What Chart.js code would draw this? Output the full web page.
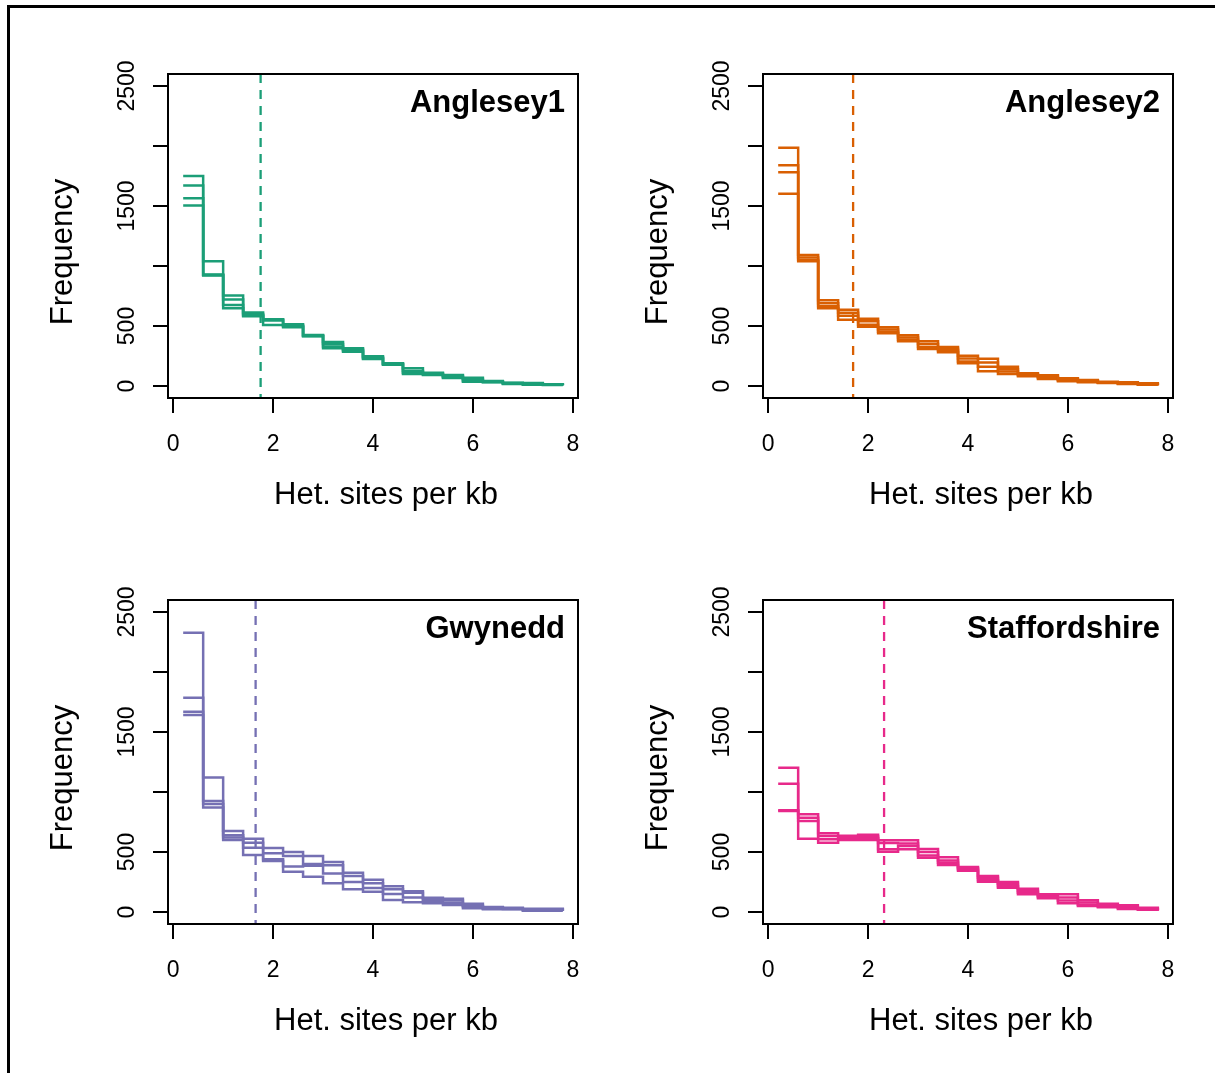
<!DOCTYPE html>
<html>
<head>
<meta charset="utf-8">
<script src="https://cdn.jsdelivr.net/npm/chart.js@4.4.1/dist/chart.umd.min.js"></script>
<style>
html,body{margin:0;padding:0;background:#fff;}
body{width:1215px;height:1073px;position:relative;overflow:hidden;}
#frame{position:absolute;left:7px;top:5px;width:1230px;height:1090px;border-top:3px solid #000;border-left:3px solid #000;}
canvas{position:absolute;}
</style>
</head>
<body>
<div id="frame"></div>
<canvas id="c0" width="570" height="476" style="left:28px;top:54px"></canvas>
<canvas id="c1" width="570" height="476" style="left:623px;top:54px"></canvas>
<canvas id="c2" width="570" height="476" style="left:28px;top:580px"></canvas>
<canvas id="c3" width="570" height="476" style="left:623px;top:580px"></canvas>
<script>
// ---- data ----
const hetBins = [0.2,0.6,1.0,1.4,1.8,2.2,2.6,3.0,3.4,3.8,4.2,4.6,5.0,5.4,5.8,6.2,6.6,7.0,7.4,7.8];
const xTicks = [0,2,4,6,8];
const xTickLabels = ['0','2','4','6','8'];
const yTicks = [0,500,1000,1500,2000,2500];
const yTickLabels = ['0','500','','1500','','2500'];

const populations = ['Anglesey1','Anglesey2','Gwynedd','Staffordshire'];
const popColors = ['#1B9E77','#D95F02','#7570B3','#E7298A'];
const meanHet = [1.75, 1.70, 1.65, 2.32];

const anglesey1 = [
  [1750,1040,755,612,556,514,425,367,314,247,189,147,111,92,69,42,28,25,14,10],
  [1670,930,720,600,552,505,421,350,305,240,185,125,105,83,58,38,24,20,12,8],
  [1565,925,675,590,545,497,417,330,295,232,181,110,98,75,45,34,20,15,10,6],
  [1505,920,648,581,508,489,414,314,286,225,178,100,92,67,36,31,17,11,8,5]
];
const anglesey2 = [
  [1986,1092,714,636,561,489,422,372,325,253,228,161,106,89,64,50,36,31,22,12],
  [1839,1070,690,610,540,470,405,350,310,230,195,140,98,78,55,44,32,26,18,8],
  [1781,1050,665,585,510,452,385,325,295,205,160,120,90,68,47,37,28,21,14,6],
  [1603,1039,647,553,494,439,372,308,281,189,122,100,81,58,39,31,25,17,11,5]
];
const gwynedd = [
  [2328,1120,675,611,533,500,467,417,328,269,214,172,119,111,69,42,36,28,28,20],
  [1786,925,640,578,490,467,400,390,300,240,190,160,105,95,55,35,30,22,22,15],
  [1669,900,620,536,440,380,385,320,250,200,150,120,90,75,45,28,26,16,16,10],
  [1642,870,600,475,425,336,294,239,189,169,100,81,72,58,31,22,22,11,11,8]
];
const staffordshire = [
  [1203,814,656,636,644,597,597,525,456,375,300,250,194,147,147,97,69,56,36,20],
  [1069,786,633,625,630,575,570,500,430,365,285,235,175,135,120,80,55,45,30,15],
  [847,758,606,612,615,522,550,470,410,355,265,215,160,125,95,60,45,35,25,12],
  [842,611,578,600,600,503,522,453,392,344,253,203,147,114,72,50,39,25,19,10]
];
const popSeries = [anglesey1, anglesey2, gwynedd, staffordshire];

const xTitle = 'Het. sites per kb';
const yTitle = 'Frequency';

// ---- chart ----
const FAMILY = "'Liberation Sans', Arial, Helvetica, sans-serif";
Chart.defaults.font.family = FAMILY;
Chart.defaults.color = '#000';

const panelDecor = {
  id: 'panelDecor',
  afterDatasetsDraw(chart, args, opts) {
    const {ctx, chartArea: a} = chart;
    const x = chart.scales.x;
    ctx.save();
    // mean line (dashed)
    const px = x.getPixelForValue(opts.mean);
    ctx.strokeStyle = opts.color;
    ctx.lineWidth = 2.3;
    ctx.setLineDash([9, 7]);
    ctx.beginPath();
    ctx.moveTo(px, a.top);
    ctx.lineTo(px, a.bottom);
    ctx.stroke();
    ctx.setLineDash([]);
    // plot box
    ctx.strokeStyle = '#000';
    ctx.lineWidth = 2;
    ctx.strokeRect(a.left, a.top, a.right - a.left, a.bottom - a.top);
    // panel label
    ctx.font = 'bold 31px ' + FAMILY;
    ctx.fillStyle = '#000';
    ctx.textAlign = 'right';
    ctx.textBaseline = 'alphabetic';
    ctx.fillText(opts.label, a.right - 13, a.top + 38);
    // axis titles
    ctx.font = '31px ' + FAMILY;
    ctx.textAlign = 'center';
    ctx.textBaseline = 'middle';
    ctx.fillText(opts.xTitle, (a.left + a.right) / 2 + 13, a.bottom + 97);
    ctx.translate(a.left - 105, (a.top + a.bottom) / 2 + 16);
    ctx.rotate(-Math.PI / 2);
    ctx.fillText(opts.yTitle, 0, 0);
    ctx.restore();
  }
};

function makePanel(idx) {
  const color = popColors[idx];
  const datasets = popSeries[idx].map(vals => ({
    data: hetBins.map((b, i) => ({x: b, y: vals[i]})),
    borderColor: color,
    borderWidth: 2.5,
    stepped: true,
    pointRadius: 0,
    fill: false
  }));
  new Chart(document.getElementById('c' + idx), {
    type: 'line',
    data: {datasets},
    options: {
      responsive: false,
      animation: false,
      events: [],
      layout: {padding: {top: 20, right: 20, left: 0, bottom: 0}},
      plugins: {
        legend: {display: false},
        tooltip: {enabled: false},
        panelDecor: {mean: meanHet[idx], color: color, label: populations[idx], xTitle: xTitle, yTitle: yTitle}
      },
      scales: {
        x: {
          type: 'linear', min: -0.104, max: 8.104,
          afterFit(s) { s.height = 132; },
          afterBuildTicks(s) { s.ticks = xTicks.map(v => ({value: v})); },
          ticks: {font: {size: 23}, color: '#000', padding: 18, maxRotation: 0, autoSkip: false,
                  callback: (v, i) => xTickLabels[i]},
          grid: {drawOnChartArea: false, drawTicks: true, tickLength: 15, color: '#000', lineWidth: 2},
          border: {display: false},
          title: {display: false}
        },
        y: {
          type: 'linear', min: -100, max: 2600,
          afterFit(s) { s.width = 140; },
          afterBuildTicks(s) { s.ticks = yTicks.map(v => ({value: v})); },
          ticks: {font: {size: 23}, color: '#000', padding: 0, minRotation: 90, maxRotation: 90,
                  crossAlign: 'center', autoSkip: false, callback: (v, i) => yTickLabels[i]},
          grid: {drawOnChartArea: false, drawTicks: true, tickLength: 15, color: '#000', lineWidth: 2},
          border: {display: false},
          title: {display: false}
        }
      }
    },
    plugins: [panelDecor]
  });
}
populations.forEach((p, i) => makePanel(i));
</script>
</body>
</html>
